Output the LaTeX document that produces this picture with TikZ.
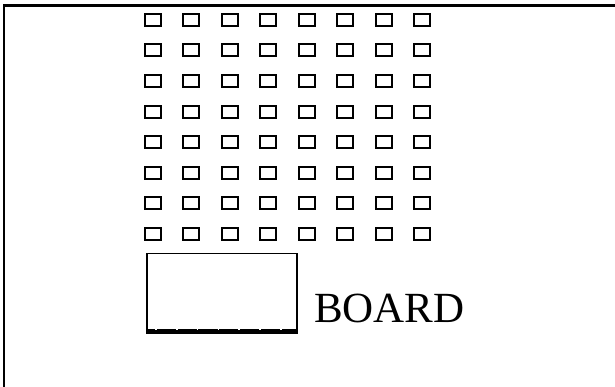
\documentclass[tikz,border=0pt]{standalone}
\usepackage{fontspec}
\setmainfont{Liberation Serif}
\begin{document}
\begin{tikzpicture}[x=1pt,y=-1pt,
  seat/.style={draw,line width=2pt,minimum width=16pt,minimum height=12pt,inner sep=0pt},
  boardbox/.style={draw,line width=1.6pt,minimum width=150pt,minimum height=80pt,inner sep=0pt}]
  \useasboundingbox (0,0) rectangle (615,387);
  % frame
  \draw[line width=2.2pt] (4,387) -- (4,5.5) -- (615,5.5);
  % seats
  \foreach \i in {0,...,7}{
    \foreach \j in {0,...,7}{
      \node[seat] (seat-\i-\j) at ({round(152.8+38.5*\i)},{round(19.7+30.6*\j)}) {};
    }
  }
  % board
  \node[boardbox] (board) at (222,293.5) {};
  \draw[line width=5pt] ([yshift=2.5pt]board.south west) -- ([yshift=2.5pt]board.south east);
  \draw[line width=1.3pt,white,dash pattern=on 1.5pt off 19.3pt,dash phase=11.8pt]
    ([yshift=4.6pt]board.south west) -- ([yshift=4.6pt]board.south east);
  \node[anchor=base west,inner sep=0pt,font=\fontsize{43}{50}\selectfont] (boardlabel) at (314,322) {BOARD};
\end{tikzpicture}
\end{document}
